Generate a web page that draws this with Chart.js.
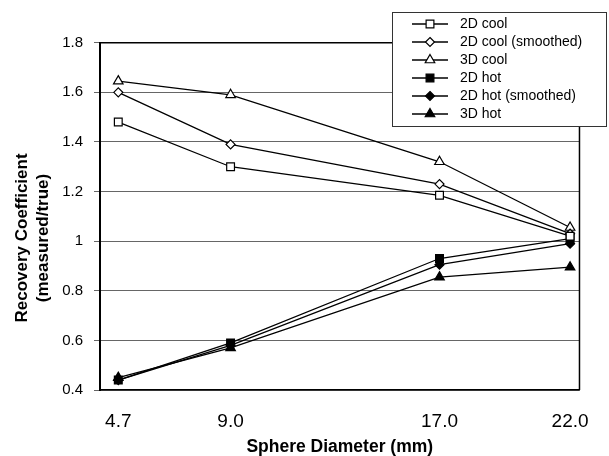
<!DOCTYPE html>
<html>
<head>
<meta charset="utf-8">
<script src="https://cdn.jsdelivr.net/npm/chart.js@4.4.0/dist/chart.umd.min.js"></script>
<style>
  html, body { margin: 0; padding: 0; background: #fff; }
  #wrap { width: 609px; height: 456px; }
</style>
</head>
<body>
<div id="wrap"><canvas id="myChart" width="609" height="456"></canvas></div>
<script>
// datos
const diametros = [4.7, 9.0, 17.0, 22.0];
const xTickLabels = ["4.7", "9.0", "17.0", "22.0"];
const yTicks = [0.4, 0.6, 0.8, 1.0, 1.2, 1.4, 1.6, 1.8];
const yTitulo = ["Recovery Coefficient", "(measured/true)"];

const cool2D = [1.48, 1.30, 1.185, 1.02];
const cool2DSmoothed = [1.60, 1.39, 1.23, 1.03];
const cool3D = [1.645, 1.59, 1.32, 1.055];
const hot2D = [0.44, 0.59, 0.93, 1.01];
const hot2DSmoothed = [0.44, 0.58, 0.905, 0.99];
const hot3D = [0.45, 0.57, 0.855, 0.895];

const fuente = "'Liberation Sans', Arial, Helvetica, sans-serif";
Chart.defaults.font.family = fuente;
Chart.defaults.color = "#000";

function serie(nombre, valores, estilo, relleno, radio) {
  return {
    label: nombre,
    data: valores.map((v, i) => ({ x: diametros[i], y: v })),
    borderColor: "#000",
    borderWidth: 1.3,
    pointStyle: estilo,
    pointRadius: radio,
    pointHoverRadius: radio,
    pointBackgroundColor: relleno ? "#000" : "#fff",
    pointBorderColor: "#000",
    pointBorderWidth: 1.2,
    tension: 0,
    fill: false,
    _relleno: relleno,
  };
}

const datasets = [
  serie("2D cool", cool2D, "rect", false, 5.5),
  serie("2D cool (smoothed)", cool2DSmoothed, "rectRot", false, 4.5),
  serie("3D cool", cool3D, "triangle", false, 5.5),
  serie("2D hot", hot2D, "rect", true, 5.5),
  serie("2D hot (smoothed)", hot2DSmoothed, "rectRot", true, 4.5),
  serie("3D hot", hot3D, "triangle", true, 5.5),
];

function dibujarMarca(ctx, estilo, x, y, r, relleno) {
  ctx.beginPath();
  if (estilo == "rect") {
    const s = r * Math.SQRT1_2;
    ctx.rect(x - s, y - s, 2 * s, 2 * s);
  } else if (estilo == "rectRot") {
    ctx.moveTo(x, y - r);
    ctx.lineTo(x + r, y);
    ctx.lineTo(x, y + r);
    ctx.lineTo(x - r, y);
    ctx.closePath();
  } else {
    let a = 0;
    ctx.moveTo(x + Math.sin(a) * r, y - Math.cos(a) * r);
    a += (2 * Math.PI) / 3;
    ctx.lineTo(x + Math.sin(a) * r, y - Math.cos(a) * r);
    a += (2 * Math.PI) / 3;
    ctx.lineTo(x + Math.sin(a) * r, y - Math.cos(a) * r);
    ctx.closePath();
  }
  ctx.fillStyle = relleno ? "#000" : "#fff";
  ctx.fill();
  ctx.stroke();
}

// marco del area, titulo Y y leyenda encima
const marcoYLeyenda = {
  id: "marcoYLeyenda",
  afterDraw(chart) {
    const ctx = chart.ctx;
    const a = chart.chartArea;
    ctx.save();
    ctx.strokeStyle = "#000";
    ctx.lineWidth = 1.5;
    ctx.beginPath();
    ctx.moveTo(a.left, a.top);
    ctx.lineTo(a.right, a.top);
    ctx.lineTo(a.right, a.bottom);
    ctx.stroke();

    // titulo del eje Y (dos lineas, girado)
    ctx.save();
    ctx.translate(0, 238);
    ctx.rotate(-Math.PI / 2);
    ctx.font = "bold 17px " + fuente;
    ctx.fillStyle = "#000";
    ctx.textAlign = "center";
    ctx.textBaseline = "middle";
    ctx.fillText(yTitulo[0], 0, 22);
    ctx.fillText(yTitulo[1], 0, 43);
    ctx.restore();

    // caja de la leyenda
    const lx = 392, ly = 12, lw = 214, lh = 114;
    ctx.fillStyle = "#fff";
    ctx.fillRect(lx, ly, lw, lh);
    ctx.strokeStyle = "#333";
    ctx.lineWidth = 1;
    ctx.strokeRect(lx + 0.5, ly + 0.5, lw, lh);

    ctx.font = "14px " + fuente;
    ctx.textBaseline = "middle";
    ctx.textAlign = "left";
    chart.data.datasets.forEach((ds, i) => {
      const y = 24 + i * 18;
      ctx.strokeStyle = "#000";
      ctx.lineWidth = 1.3;
      ctx.beginPath();
      ctx.moveTo(412, y);
      ctx.lineTo(448, y);
      ctx.stroke();
      ctx.lineWidth = 1.2;
      dibujarMarca(ctx, ds.pointStyle, 430, y, ds.pointRadius, ds._relleno);
      ctx.fillStyle = "#000";
      ctx.fillText(ds.label, 460, y + 0.5);
    });
    ctx.restore();
  },
};

const ctx = document.getElementById("myChart");
window.myChart = new Chart(ctx, {
  type: "line",
  data: { datasets: datasets },
  plugins: [marcoYLeyenda],
  options: {
    responsive: false,
    animation: false,
    layout: { padding: { left: 0, top: 42.7, right: 22, bottom: 0 } },
    plugins: {
      legend: { display: false },
      tooltip: { enabled: false },
    },
    scales: {
      x: {
        type: "linear",
        min: 4.0,
        max: 22.36,
        afterBuildTicks: (scale) => {
          scale.ticks = diametros.map((v) => ({ value: v }));
        },
        afterFit: (scale) => {
          scale.height = 66;
        },
        ticks: {
          autoSkip: false,
          maxRotation: 0,
          padding: 20,
          font: { size: 19 },
          color: "#000",
          callback: (v, i) => xTickLabels[i],
        },
        grid: { display: false, drawTicks: false },
        border: { color: "#000", width: 1.5 },
        title: {
          display: true,
          text: "Sphere Diameter (mm)",
          font: { size: 17.5, weight: "bold", lineHeight: 1 },
          padding: { top: 0, bottom: 0 },
          color: "#000",
        },
      },
      y: {
        min: 0.4,
        max: 1.8,
        afterBuildTicks: (scale) => {
          scale.ticks = yTicks.map((v) => ({ value: v }));
        },
        afterFit: (scale) => {
          scale.width = 100;
        },
        ticks: {
          padding: 11,
          font: { size: 15 },
          color: "#000",
          callback: (v) => String(Math.round(v * 10) / 10),
        },
        grid: { color: "#666", lineWidth: 1, tickLength: 6 },
        border: { color: "#000", width: 2 },
        title: { display: false },
      },
    },
  },
});
</script>
</body>
</html>
